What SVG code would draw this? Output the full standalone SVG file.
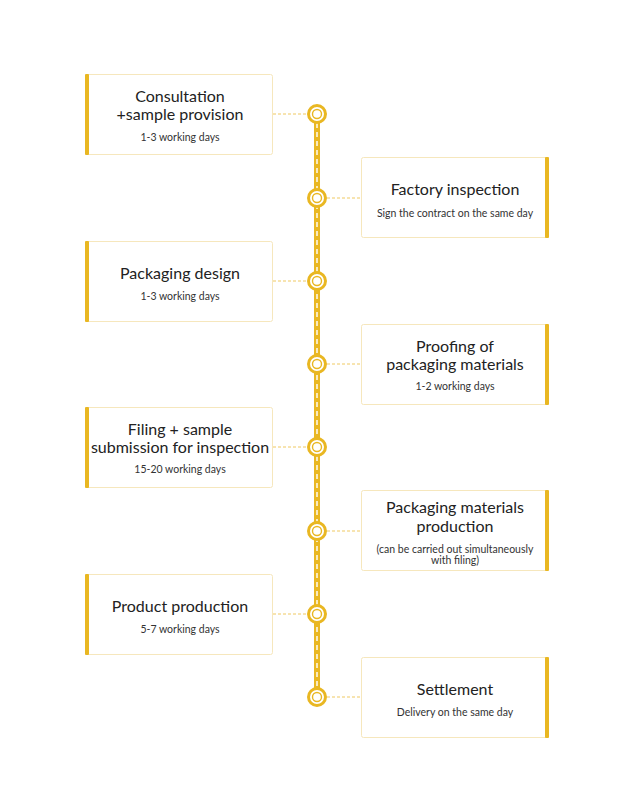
<svg xmlns="http://www.w3.org/2000/svg" width="635" height="800" viewBox="0 0 635 800">
<style>
.box{fill:#fff;stroke:#f6e7bd;stroke-width:1}
.bar{fill:#e9b722}
.t{font-family:Lato,"Open Sans","Noto Sans",sans-serif;font-size:16px;fill:#222;text-anchor:middle}
.s{font-family:Lato,"Open Sans","Noto Sans",sans-serif;font-size:10.5px;fill:#333;text-anchor:middle}
.dot{stroke:#efc962;stroke-width:1;stroke-dasharray:3 2;fill:none}
.ring{fill:#fff;stroke:#e9b722;stroke-width:3}
.inner{fill:#fff;stroke:#e9b722;stroke-width:1.4}
</style>
<rect width="635" height="800" fill="#fff"/>
<g id="connectors">
<line x1="317" y1="114" x2="317" y2="697" stroke="#e9b722" stroke-width="6"/>
<line x1="317" y1="114" x2="317" y2="697" stroke="#fff" stroke-width="1.4" stroke-dasharray="5 4"/>
<line class="dot" x1="273" y1="114" x2="307" y2="114"/>
<line class="dot" x1="327" y1="198" x2="361" y2="198"/>
<line class="dot" x1="273" y1="281" x2="307" y2="281"/>
<line class="dot" x1="327" y1="364" x2="361" y2="364"/>
<line class="dot" x1="273" y1="447" x2="307" y2="447"/>
<line class="dot" x1="327" y1="531" x2="361" y2="531"/>
<line class="dot" x1="273" y1="614" x2="307" y2="614"/>
<line class="dot" x1="327" y1="697" x2="361" y2="697"/>
<g id="markers">
<circle class="ring" cx="317" cy="114" r="8.5"/><circle class="inner" cx="317" cy="114" r="4.5"/>
<circle class="ring" cx="317" cy="198" r="8.5"/><circle class="inner" cx="317" cy="198" r="4.5"/>
<circle class="ring" cx="317" cy="281" r="8.5"/><circle class="inner" cx="317" cy="281" r="4.5"/>
<circle class="ring" cx="317" cy="364" r="8.5"/><circle class="inner" cx="317" cy="364" r="4.5"/>
<circle class="ring" cx="317" cy="447" r="8.5"/><circle class="inner" cx="317" cy="447" r="4.5"/>
<circle class="ring" cx="317" cy="531" r="8.5"/><circle class="inner" cx="317" cy="531" r="4.5"/>
<circle class="ring" cx="317" cy="614" r="8.5"/><circle class="inner" cx="317" cy="614" r="4.5"/>
<circle class="ring" cx="317" cy="697" r="8.5"/><circle class="inner" cx="317" cy="697" r="4.5"/>
</g>
</g>
<g id="n1">
<rect class="box" x="85.5" y="74.5" width="187" height="80" rx="2"/>
<rect class="bar" x="85" y="74" width="4" height="81" rx="1"/>
<text class="t" x="180" y="102">Consultation</text>
<text class="t" x="180" y="120">+sample provision</text>
<text class="s" x="180" y="141">1-3 working days</text>
</g>
<g id="n2">
<rect class="box" x="361.5" y="157.5" width="187" height="80" rx="2"/>
<rect class="bar" x="545" y="157" width="4" height="81" rx="1"/>
<text class="t" x="455" y="195">Factory inspection</text>
<text class="s" x="455" y="217">Sign the contract on the same day</text>
</g>
<g id="n3">
<rect class="box" x="85.5" y="241.5" width="187" height="80" rx="2"/>
<rect class="bar" x="85" y="241" width="4" height="81" rx="1"/>
<text class="t" x="180" y="279">Packaging design</text>
<text class="s" x="180" y="300">1-3 working days</text>
</g>
<g id="n4">
<rect class="box" x="361.5" y="324.5" width="187" height="80" rx="2"/>
<rect class="bar" x="545" y="324" width="4" height="81" rx="1"/>
<text class="t" x="455" y="352">Proofing of</text>
<text class="t" x="455" y="370">packaging materials</text>
<text class="s" x="455" y="390">1-2 working days</text>
</g>
<g id="n5">
<rect class="box" x="85.5" y="407.5" width="187" height="80" rx="2"/>
<rect class="bar" x="85" y="407" width="4" height="81" rx="1"/>
<text class="t" x="180" y="435">Filing + sample</text>
<text class="t" x="180" y="453">submission for inspection</text>
<text class="s" x="180" y="473">15-20 working days</text>
</g>
<g id="n6">
<rect class="box" x="361.5" y="490.5" width="187" height="80" rx="2"/>
<rect class="bar" x="545" y="490" width="4" height="81" rx="1"/>
<text class="t" x="455" y="513">Packaging materials</text>
<text class="t" x="455" y="532">production</text>
<text class="s" x="455" y="553">(can be carried out simultaneously</text>
<text class="s" x="455" y="564">with filing)</text>
</g>
<g id="n7">
<rect class="box" x="85.5" y="574.5" width="187" height="80" rx="2"/>
<rect class="bar" x="85" y="574" width="4" height="81" rx="1"/>
<text class="t" x="180" y="612">Product production</text>
<text class="s" x="180" y="633">5-7 working days</text>
</g>
<g id="n8">
<rect class="box" x="361.5" y="657.5" width="187" height="80" rx="2"/>
<rect class="bar" x="545" y="657" width="4" height="81" rx="1"/>
<text class="t" x="455" y="695">Settlement</text>
<text class="s" x="455" y="716">Delivery on the same day</text>
</g>
</svg>
